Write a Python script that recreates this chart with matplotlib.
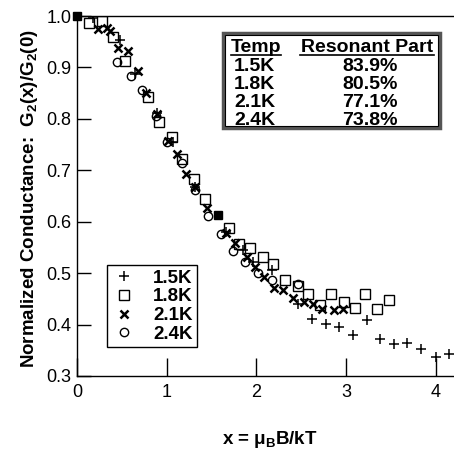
import matplotlib
matplotlib.use('Agg')
import matplotlib.pyplot as plt
from matplotlib.patches import Rectangle

plt.rcParams['font.family'] = ['Liberation Sans', 'DejaVu Sans']
plt.rcParams['mathtext.fontset'] = 'custom'
plt.rcParams['mathtext.rm'] = 'Liberation Sans:bold'
plt.rcParams['mathtext.it'] = 'Liberation Sans:bold'
plt.rcParams['mathtext.bf'] = 'Liberation Sans:bold'

# 1.5K (+)
x15 = [0.175, 0.48, 0.65, 0.89, 1.07, 1.32, 1.66, 1.85, 1.96, 2.17, 2.46, 2.62, 2.78, 2.92,
       3.08, 3.23, 3.38, 3.53, 3.68, 3.84, 4.00, 4.15]
y15 = [0.997, 0.953, 0.887, 0.812, 0.755, 0.667, 0.580, 0.545, 0.522, 0.506, 0.440, 0.410,
       0.401, 0.396, 0.379, 0.409, 0.372, 0.362, 0.365, 0.352, 0.336, 0.342]
# 1.8K (open square)
x18 = [0.137, 0.275, 0.40, 0.535, 0.795, 0.91, 1.055, 1.17, 1.30, 1.43, 1.69, 1.81, 1.93,
       2.07, 2.18, 2.32, 2.46, 2.58, 2.71, 2.83, 2.98, 3.10, 3.21, 3.35, 3.48]
y18 = [0.986, 0.991, 0.959, 0.912, 0.843, 0.794, 0.765, 0.721, 0.684, 0.645, 0.587, 0.556,
       0.548, 0.532, 0.518, 0.486, 0.475, 0.460, 0.438, 0.459, 0.444, 0.433, 0.459, 0.430, 0.447]
# 2.1K (x)
x21 = [0.238, 0.33, 0.37, 0.46, 0.57, 0.68, 0.77, 0.89, 1.02, 1.11, 1.22, 1.32, 1.45, 1.66,
       1.76, 1.89, 1.98, 2.08, 2.20, 2.30, 2.41, 2.53, 2.63, 2.73, 2.86, 2.97]
y21 = [0.974, 0.976, 0.970, 0.937, 0.931, 0.894, 0.850, 0.810, 0.757, 0.732, 0.693, 0.668,
       0.626, 0.578, 0.559, 0.531, 0.511, 0.493, 0.472, 0.467, 0.451, 0.444, 0.440, 0.431,
       0.428, 0.431]
# 2.4K (open circle)
x24 = [0.45, 0.60, 0.73, 0.88, 1.00, 1.17, 1.32, 1.46, 1.60, 1.74, 1.87, 2.02, 2.17, 2.46]
y24 = [0.911, 0.883, 0.857, 0.805, 0.755, 0.715, 0.662, 0.611, 0.577, 0.543, 0.522, 0.500,
       0.486, 0.478]
# filled reference points
xfill = [0.0, 1.57]
yfill = [1.0, 0.613]

temps = ['1.5K', '1.8K', '2.1K', '2.4K']
resonant = ['83.9%', '80.5%', '77.1%', '73.8%']

W, H = 454, 453
fig = plt.figure(figsize=(W / 100, H / 100), dpi=100)
ax = fig.add_axes([77 / W, 1 - 376 / H, 1 - 77 / W, 360 / H])

ax.plot(x15, y15, '+', color='black', ms=7, mew=1.1, ls='none', label=temps[0])
ax.plot(x18, y18, 's', mfc='none', mec='black', ms=6.5, mew=1.0, ls='none', label=temps[1])
ax.plot(x21, y21, 'x', color='black', ms=6, mew=1.8, ls='none', label=temps[2])
ax.plot(x24, y24, 'o', mfc='none', mec='black', ms=6, mew=1.0, ls='none', label=temps[3])
ax.plot(xfill, yfill, 's', color='black', ms=6, ls='none', clip_on=False)

ax.set_xlim(0, 377 / 89.7)
ax.set_ylim(0.3, 1.0)
ax.set_xticks([0, 1, 2, 3, 4])
ax.set_yticks([0.3, 0.4, 0.5, 0.6, 0.7, 0.8, 0.9, 1.0])
ax.set_yticklabels(['0.3', '0.4', '0.5', '0.6', '0.7', '0.8', '0.9', '1.0'])
ax.tick_params(axis='x', direction='in', length=13, width=1, labelsize=13, pad=6)
ax.tick_params(axis='y', direction='in', length=10, width=1, labelsize=13, pad=4)
ax.spines['right'].set_visible(False)
for s in ['left', 'bottom', 'top']:
    ax.spines[s].set_linewidth(1.0)

fig.text(270 / W, 1 - 440 / H, r'x = $\mu_B$B/kT', fontsize=13.5, fontweight='bold',
         ha='center', va='center')
fig.text(30 / W, 1 - 199 / H, r'Normalized Conductance:  G$_2$(x)/G$_2$(0)', fontsize=13.5,
         fontweight='bold', rotation=90, ha='center', va='center')

leg = ax.legend(loc='upper left', bbox_to_anchor=(107 / W, 1 - 265 / H),
                bbox_transform=fig.transFigure, frameon=True, fancybox=False,
                edgecolor='black', framealpha=1, prop={'weight': 'bold', 'size': 13.5},
                handletextpad=0.9, labelspacing=0.08, borderpad=0.25, handlelength=1.3,
                borderaxespad=0)
leg.get_frame().set_linewidth(1.0)

# resonant-part table
fig.patches.append(Rectangle((223 / W, 1 - 128 / H), 217 / W, 95 / H,
                             transform=fig.transFigure, fill=False,
                             edgecolor='#555555', lw=2.5))
fig.patches.append(Rectangle((225 / W, 1 - 126 / H), 213 / W, 91 / H,
                             transform=fig.transFigure, fill=False,
                             edgecolor='black', lw=0.8))
fig.text(231 / W, 1 - 52 / H, 'Temp', fontsize=14, fontweight='bold', va='baseline', ha='left')
fig.text(367 / W, 1 - 52 / H, 'Resonant Part', fontsize=14, fontweight='bold',
         va='baseline', ha='center')
fig.add_artist(plt.Line2D([231 / W, 281 / W], [1 - 54.5 / H, 1 - 54.5 / H], color='black', lw=1.2))
fig.add_artist(plt.Line2D([300 / W, 434 / W], [1 - 54.5 / H, 1 - 54.5 / H], color='black', lw=1.2))
rows_y = [71, 89, 107, 125]
for t, r, yy in zip(temps, resonant, rows_y):
    fig.text(234 / W, 1 - yy / H, t, fontsize=14, fontweight='bold', va='baseline', ha='left')
    fig.text(370 / W, 1 - yy / H, r, fontsize=14, fontweight='bold', va='baseline', ha='center')

fig.savefig('out.png', dpi=100)
